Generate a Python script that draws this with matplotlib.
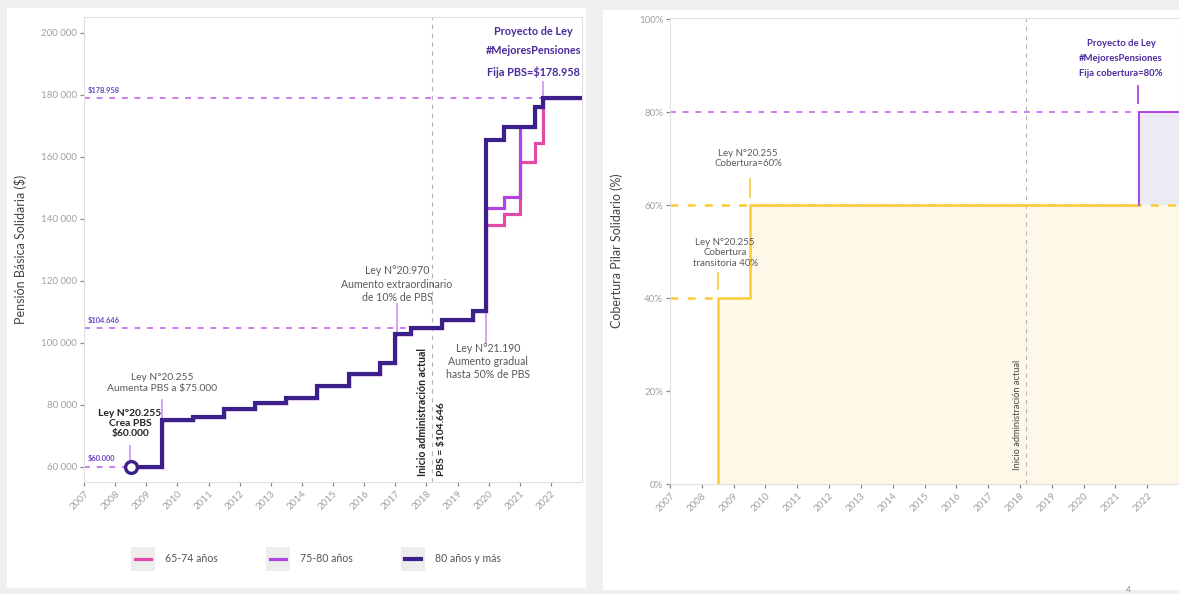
import matplotlib
matplotlib.use('Agg')
import matplotlib.pyplot as plt
from matplotlib.patches import Rectangle
from matplotlib.legend_handler import HandlerLine2D
from matplotlib.ticker import FuncFormatter

plt.rcParams['font.family'] = ['Lato', 'DejaVu Sans']

# ---------------- data ----------------
years_ticks = list(range(2007, 2023))

step_years = [2008.5, 2009.5, 2010.5, 2011.5, 2012.5, 2013.5, 2014.5, 2015.5, 2016.5,
              2017.0, 2017.5, 2018.5, 2019.5, 2019.92, 2020.5, 2021.0, 2021.5, 2021.75, 2023.0]
pbs_80_mas = [60000, 75000, 75840, 78449, 80528, 82058, 85964, 89764, 93543,
              102897, 104646, 107304, 110201, 165302, 169649, 169649, 176096, 178958, 178958]
pbs_75_79 = [60000, 75000, 75840, 78449, 80528, 82058, 85964, 89764, 93543,
             102897, 104646, 107304, 110201, 143261, 147029, 169649, 176096, 178958, 178958]
pbs_65_74 = [60000, 75000, 75840, 78449, 80528, 82058, 85964, 89764, 93543,
             102897, 104646, 107304, 110201, 137751, 141374, 158339, 164356, 178958, 178958]
series_labels = ['65-74 años', '75-80 años', '80 años y más']

ref_values = [60000, 104646, 178958]
ref_labels = ['$60.000', '$104.646', '$178.958']
ref_end_years = [2008.5, 2017.5, 2023.0]

inicio_admin = 2018.19

cov_years = [2008.5, 2009.5, 2021.75]
cov_values = [40, 60, 60]
proj_years = [2021.75, 2023.0]
proj_values = [80, 80]

# ---------------- styles ----------------
C_DARK = '#3b1f8a'
C_MAG = '#b043e2'
C_PINK = '#e24aa6'
C_REF = '#cc7cf0'
C_TICK = '#d39bf2'
C_TXT = '#5a5a5a'
C_BOLDP = '#4a2a9c'
C_YEL = '#f8cd42'
C_YFILL = '#fdf8e7'
C_LAV = '#ecebf5'
C_AX = '#a0a0a0'

W, H = 1179, 594
fig = plt.figure(figsize=(W / 100, H / 100), dpi=100)
fig.patch.set_facecolor('#efefef')

def fx(px):
    return px / W

def fy(py):
    return 1 - py / H

# panels
fig.patches.append(Rectangle((fx(7), fy(588)), fx(579), 580 / H, transform=fig.transFigure,
                             facecolor='white', edgecolor='none', zorder=-10))
fig.patches.append(Rectangle((fx(603), fy(590)), fx(576), 580 / H, transform=fig.transFigure,
                             facecolor='white', edgecolor='none', zorder=-10))

ax1 = fig.add_axes([fx(84), fy(482), fx(582 - 84), (482 - 17) / H])
ax2 = fig.add_axes([fx(670), fy(484), fx(1179 - 670), (484 - 18) / H])

for ax in (ax1, ax2):
    ax.set_facecolor('none')
    for s in ax.spines.values():
        s.set_color('#e0e0e0')
        s.set_linewidth(0.8)
    ax.tick_params(axis='both', colors='#888888', labelcolor=C_AX, labelsize=7.0,
                   length=3, width=0.9, pad=2)
    ax.set_xlim(2007, 2023)
    ax.set_xticks(years_ticks)
    ax.set_xticklabels([str(y) for y in years_ticks], rotation=45, ha='right',
                       rotation_mode='anchor')

# ---------------- left chart ----------------
ax1.set_ylim(55000, 205000)
ax1.set_yticks(range(60000, 200001, 20000))
ax1.yaxis.set_major_formatter(FuncFormatter(lambda v, p: f"{int(v):,}".replace(',', ' ')))
ax1.set_ylabel('Pensión Básica Solidaria ($)', fontsize=9, color='#444444', labelpad=10)

# reference dashed lines
for val, lab, end in zip(ref_values, ref_labels, ref_end_years):
    ax1.plot([2007, end], [val, val], color=C_REF, lw=1.4, dashes=(3, 3.5), zorder=2)
    ax1.text(2007.12, val + 1300, lab, color='#6a45c4', fontsize=5.4, fontweight='bold',
             ha='left', va='bottom')

ax1.axvline(inicio_admin, color='#b5b5b5', lw=0.8, dashes=(4, 4), zorder=1)

# annotation tick lines
for x0, y0, y1 in [(2008.48, 61200, 66500), (2009.5, 74600, 81500), (2017.06, 102000, 112300),
                   (2019.93, 100000, 114800), (2021.76, 179000, 184000)]:
    ax1.plot([x0, x0], [y0, y1], color=C_TICK, lw=1.3, zorder=2)

l_pink, = ax1.plot(step_years, pbs_65_74, drawstyle='steps-post', color=C_PINK, lw=2.3, zorder=3,
                   solid_joinstyle='miter')
l_mag, = ax1.plot(step_years, pbs_75_79, drawstyle='steps-post', color=C_MAG, lw=2.3, zorder=4,
                  solid_joinstyle='miter')
l_dark, = ax1.plot(step_years, pbs_80_mas, drawstyle='steps-post', color=C_DARK, lw=3.0, zorder=5,
                   solid_joinstyle='miter')
ax1.plot([step_years[0]], [pbs_80_mas[0]], 'o', ms=8.5, mfc='white', mec=C_DARK, mew=2.4, zorder=6)

ax1.text(2017.06, 118800, 'Ley N°20.970\nAumento extraordinario\nde 10% de PBS', color=C_TXT,
         fontsize=7.6, ha='center', va='center', linespacing=1.25)
ax1.text(2019.98, 93800, 'Ley N°21.190\nAumento gradual\nhasta 50% de PBS', color=C_TXT,
         fontsize=7.6, ha='center', va='center', linespacing=1.25)
ax1.text(2009.5, 86900, 'Ley N°20.255\nAumenta PBS a $75.000', color=C_TXT,
         fontsize=7.4, ha='center', va='center', linespacing=1.25)
ax1.text(2008.48, 73900, 'Ley N°20.255\nCrea PBS\n$60.000', color='#222222', fontweight='bold',
         fontsize=7.4, ha='center', va='center', linespacing=1.2)
ax1.text(2021.45, 193800, 'Proyecto de Ley\n#MejoresPensiones\nFija PBS=$178.958', color=C_BOLDP,
         fontweight='bold', fontsize=7.8, ha='center', va='center', linespacing=1.95)
ax1.text(2017.87, 56900, 'Inicio administración actual', rotation=90, color='#222222',
         fontweight='bold', fontsize=7.6, ha='center', va='bottom')
ax1.text(2018.48, 56900, 'PBS = $104.646', rotation=90, color='#222222',
         fontweight='bold', fontsize=7.4, ha='center', va='bottom')


class BoxHandler(HandlerLine2D):
    def create_artists(self, legend, orig_handle, xdescent, ydescent, width, height,
                       fontsize, trans):
        arts = super().create_artists(legend, orig_handle, xdescent, ydescent, width, height,
                                      fontsize, trans)
        side = 24 / 1.389
        cx = -xdescent + width / 2
        cy = -ydescent + height / 2
        rect = Rectangle((cx - side / 2, cy - side / 2), side, side, facecolor='#ededed',
                         edgecolor='none', transform=trans)
        return [rect] + arts


leg = fig.legend([l_pink, l_mag, l_dark], series_labels, loc='center',
                 bbox_to_anchor=(fx(318), fy(559)), ncol=3, frameon=False, fontsize=7.6,
                 handlelength=1.5, handletextpad=1.3, columnspacing=5.0,
                 handler_map={l_pink: BoxHandler(), l_mag: BoxHandler(), l_dark: BoxHandler()})
for t in leg.get_texts():
    t.set_color('#555555')

# ---------------- right chart ----------------
ax2.set_ylim(0, 100.3)
ax2.set_yticks(range(0, 101, 20))
ax2.yaxis.set_major_formatter(FuncFormatter(lambda v, p: f"{int(v)}%"))
ax2.set_ylabel('Cobertura Pilar Solidario (%)', fontsize=9, color='#444444', labelpad=11)

fill_x = cov_years + [proj_years[-1]]
fill_y = cov_values + [cov_values[-1]]
ax2.fill_between(fill_x, 0, fill_y, step='post', color=C_YFILL, lw=0, zorder=0)
ax2.fill_between(proj_years, cov_values[-1], proj_values, step='post', color=C_LAV, lw=0, zorder=0)

ax2.axvline(inicio_admin, color='#b5b5b5', lw=0.8, dashes=(4, 4), zorder=1)

ax2.plot([2007, cov_years[0]], [cov_values[0], cov_values[0]], color=C_YEL, lw=1.9, dashes=(3, 3.5), zorder=2)
ax2.plot([2007, 2023], [cov_values[1], cov_values[1]], color=C_YEL, lw=1.9, dashes=(3, 3.5), zorder=2)
ax2.plot([2007, proj_years[0]], [proj_values[0], proj_values[0]], color=C_REF, lw=1.4, dashes=(3, 3.5), zorder=2)

ax2.plot([cov_years[0]] + cov_years, [0] + cov_values, drawstyle='steps-post', color=C_YEL, lw=1.9, zorder=3)
ax2.plot([proj_years[0]] + proj_years, [cov_values[-1]] + proj_values, drawstyle='steps-post',
         color=C_MAG, lw=1.4, zorder=4)

for x0, y0, y1, c in [(2008.5, 42.0, 45.5, C_YEL), (2009.5, 61.8, 65.7, C_YEL),
                      (2021.72, 82.0, 85.6, C_MAG)]:
    ax2.plot([x0, x0], [y0, y1], color=c, lw=1.3, zorder=2)

ax2.text(2009.45, 70.0, 'Ley N°20.255\nCobertura=60%', color=C_TXT, fontsize=7.0,
         ha='center', va='center', linespacing=1.2)
ax2.text(2008.73, 49.8, 'Ley N°20.255\nCobertura\ntransitoria 40%', color=C_TXT, fontsize=7.0,
         ha='center', va='center', linespacing=1.2)
ax2.text(2021.18, 91.6, 'Proyecto de Ley\n#MejoresPensiones\nFija cobertura=80%', color=C_BOLDP,
         fontweight='bold', fontsize=6.8, ha='center', va='center', linespacing=1.9)
ax2.text(2017.91, 3.0, 'Inicio administración actual', rotation=90, color='#444444',
         fontsize=6.7, ha='center', va='bottom')

fig.text(fx(1128), fy(589), '4', fontsize=6, color='#888888', ha='center', va='center')

fig.savefig('out.png', dpi=100, facecolor=fig.get_facecolor())
